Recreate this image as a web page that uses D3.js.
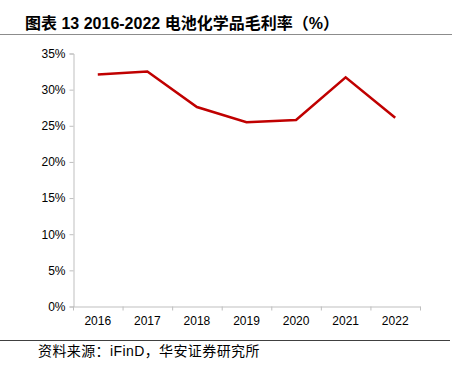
<!DOCTYPE html>
<html>
<head>
<meta charset="utf-8">
<script src="https://cdn.jsdelivr.net/npm/d3@7"></script>
<style>
  body { margin: 0; background: #fff; }
</style>
</head>
<body>
<svg id="chart"></svg>
<script>
// Data
const years = ['2016', '2017', '2018', '2019', '2020', '2021', '2022'];
const margins = [32.1, 32.5, 27.6, 25.5, 25.8, 31.7, 26.1];
const yTicks = [0, 5, 10, 15, 20, 25, 30, 35];

const width = 459;
const height = 377;
const plot = { left: 73, right: 420, top: 53.5, bottom: 306.5 };

const svg = d3.select('#chart')
  .attr('width', width)
  .attr('height', height);

// Title
svg.append('text')
  .attr('x', 25)
  .attr('y', 28.5)
  .style('font-family', '"Liberation Sans", "Noto Sans CJK SC", sans-serif')
  .style('font-size', '16px')
  .style('font-weight', 'bold')
  .style('fill', '#000')
  .text('图表 13 2016-2022 电池化学品毛利率（%）');

// Rules above and below the chart
svg.append('line')
  .attr('x1', 0).attr('x2', 452)
  .attr('y1', 34.5).attr('y2', 34.5)
  .attr('stroke', '#8c8c8c')
  .attr('stroke-width', 1);

svg.append('line')
  .attr('x1', 0).attr('x2', 450)
  .attr('y1', 340.5).attr('y2', 340.5)
  .attr('stroke', '#404040')
  .attr('stroke-width', 1);

// Scales
const x = d3.scaleBand().domain(years).range([plot.left, plot.right]);
const y = d3.scaleLinear().domain([0, 35]).range([plot.bottom, plot.top]);

// Y axis
const yAxis = svg.append('g')
  .attr('transform', `translate(${plot.left + 0.5}, 0)`)
  .call(d3.axisLeft(y).tickValues(yTicks).tickSize(4).tickPadding(4).tickFormat((d) => d + '%'));

// X axis
const xAxis = svg.append('g')
  .attr('transform', `translate(0, ${plot.bottom})`)
  .call(d3.axisBottom(x).tickSize(0).tickPadding(10));

// band boundary ticks on the x axis
xAxis.selectAll('.edge')
  .data(d3.range(years.length + 1))
  .join('line')
  .attr('class', 'edge')
  .attr('x1', (i) => plot.left + i * x.step() + 0.5)
  .attr('x2', (i) => plot.left + i * x.step() + 0.5)
  .attr('y1', 0)
  .attr('y2', 4)
  .attr('stroke', '#bfbfbf');

[yAxis, xAxis].forEach((g) => {
  g.select('.domain').attr('stroke', '#bfbfbf');
  g.selectAll('.tick line').attr('stroke', '#bfbfbf');
  g.selectAll('text')
    .style('font-family', '"Liberation Sans", Arial, sans-serif')
    .style('font-size', '12px')
    .style('fill', '#000');
});

// Line
const line = d3.line()
  .x((d, i) => x(years[i]) + x.bandwidth() / 2)
  .y((d) => y(d));

svg.append('path')
  .datum(margins)
  .attr('d', line)
  .attr('fill', 'none')
  .attr('stroke', '#c00000')
  .attr('stroke-width', 2.5)
  .attr('stroke-linejoin', 'miter');

// Source
svg.append('text')
  .attr('x', 38)
  .attr('y', 356)
  .style('font-family', '"Liberation Sans", "Noto Sans CJK SC", sans-serif')
  .style('font-size', '14px')
  .style('letter-spacing', '0.4px')
  .style('fill', '#000')
  .text('资料来源：iFinD，华安证券研究所');
</script>
</body>
</html>
